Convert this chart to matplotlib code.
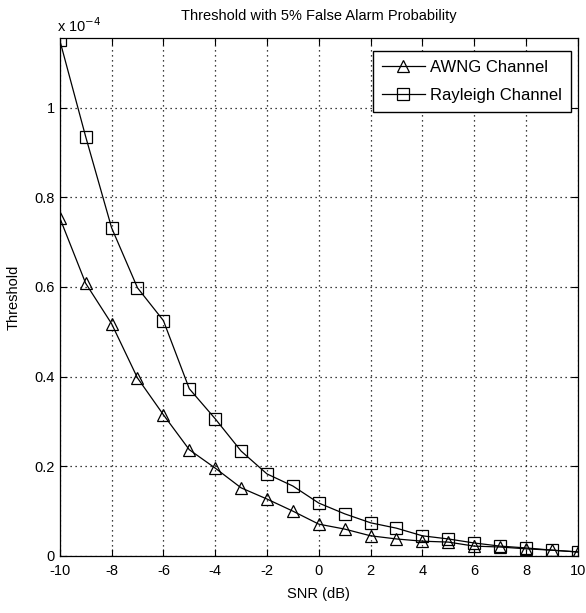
import numpy as np
import matplotlib
matplotlib.use("Agg")
import matplotlib.pyplot as plt

plt.rcParams['font.family'] = ['Liberation Sans', 'DejaVu Sans']
plt.rcParams['axes.unicode_minus'] = False

snr = np.arange(-10, 11)
# threshold values in units of 1e-4
awng = [0.754, 0.608, 0.518, 0.397, 0.315, 0.237, 0.196, 0.152, 0.127, 0.100, 0.071,
        0.060, 0.045, 0.038, 0.033, 0.031, 0.022, 0.020, 0.016, 0.013, 0.009]
rayleigh = [1.15, 0.935, 0.732, 0.598, 0.525, 0.373, 0.306, 0.234, 0.183, 0.156, 0.118,
            0.094, 0.074, 0.062, 0.045, 0.038, 0.029, 0.022, 0.018, 0.013, 0.009]

fig = plt.figure(figsize=(5.86, 6.13), dpi=100)
ax = fig.add_axes([0.102, 0.093, 0.884, 0.845])

ax.plot(snr, awng, 'k-^', lw=0.9, ms=8, mfc='none', mew=0.9, label='AWNG Channel')
ax.plot(snr, rayleigh, 'k-s', lw=0.9, ms=8, mfc='none', mew=0.9, label='Rayleigh Channel')

ax.set_xlim(-10, 10)
ax.set_ylim(0, 1.155)
ax.set_xticks(np.arange(-10, 11, 2))
ax.set_yticks([0, 0.2, 0.4, 0.6, 0.8, 1])
ax.set_yticklabels(['0', '0.2', '0.4', '0.6', '0.8', '1'])
ax.tick_params(direction='in', top=True, right=True, labelsize=10.5, length=5)
ax.tick_params(axis='x', pad=6)
ax.grid(True, color='k', linestyle=(0, (1, 3)), linewidth=0.9)
for s in ax.spines.values():
    s.set_linewidth(0.9)

ax.set_xlabel('SNR (dB)', fontsize=10.5, labelpad=6)
ax.set_ylabel('Threshold', fontsize=10.5, labelpad=10)
ax.set_title('Threshold with 5% False Alarm Probability', fontsize=10.5, pad=13)
ax.text(-0.005, 1.005, r'x 10$^{-4}$', transform=ax.transAxes, fontsize=10.5,
        ha='left', va='bottom')

leg = ax.legend(loc='upper right', bbox_to_anchor=(0.987, 0.975), fontsize=12,
                fancybox=False, edgecolor='k', framealpha=1, handlelength=2.6,
                handletextpad=0.3, labelspacing=0.75, borderaxespad=0.0,
                borderpad=0.55)
leg.get_frame().set_linewidth(1.0)

fig.savefig('out.png', dpi=100)
